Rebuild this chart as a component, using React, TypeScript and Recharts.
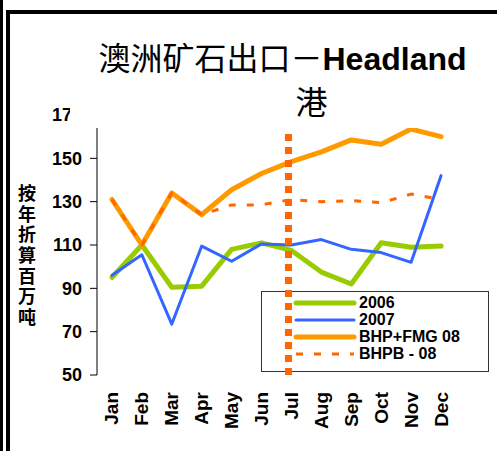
import React from 'react';
import { LineChart, Line, XAxis, YAxis, ReferenceLine } from 'recharts';

const months = ['Jan', 'Feb', 'Mar', 'Apr', 'May', 'Jun', 'Jul', 'Aug', 'Sep', 'Oct', 'Nov', 'Dec'];
const s2006 = [95, 110, 90.5, 91, 108, 111, 107.5, 97.5, 92, 111, 109, 109.5];
const s2007 = [96, 105.5, 73.5, 109.5, 102.5, 110.5, 110, 112.5, 108, 106.5, 102, 142];
const bhpFmg = [131, 110, 134, 124, 135.5, 143, 148.5, 153, 158.5, 156.5, 163.5, 160];
const bhpb = [131, 110, 134, 124, 128.5, 128.5, 131, 130, 130.5, 129.5, 133.5, 131];
const yTicks = [50, 70, 90, 110, 130, 150, 170];
const boundaryTicks = [0, 1, 2, 3, 4, 5, 6, 7, 8, 9, 10, 11, 12];
const markerPos = 6.4; // position of the vertical marker (Jul)

const data = months.map((m, i) => ({
  pos: i + 0.5,
  month: m,
  s2006: s2006[i],
  s2007: s2007[i],
  bhpFmg: bhpFmg[i],
  bhpb: bhpb[i],
}));
const labelTicks = months.map((_, i) => i + 0.5);

const FONT = '"Liberation Sans", Arial, sans-serif';
const CJK = '"Noto Sans CJK SC", sans-serif';

const series = [
  { key: 's2006', name: '2006', color: '#99CC00', width: 5, dash: undefined as string | undefined },
  { key: 's2007', name: '2007', color: '#3366FF', width: 3, dash: undefined as string | undefined },
  { key: 'bhpFmg', name: 'BHP+FMG 08', color: '#FF9900', width: 5, dash: undefined as string | undefined },
  { key: 'bhpb', name: 'BHPB - 08', color: '#FF6600', width: 3, dash: '7 11' },
];

const MonthTick = (props: any) => {
  const { x, y, payload } = props;
  const label = months[Math.floor(payload.value)];
  return (
    <text
      x={x}
      y={y}
      transform={`rotate(-90 ${x} ${y})`}
      textAnchor="end"
      dominantBaseline="central"
      fontSize={19}
      fontWeight="bold"
      fontFamily={FONT}
      fill="#000"
    >
      {label}
    </text>
  );
};

export default function App() {
  return (
    <div style={{ position: 'absolute', left: 0, top: 0, width: 497, height: 451, background: '#fff', overflow: 'hidden' }}>
      {/* outer frame */}
      <div style={{ position: 'absolute', left: 0, top: 0, width: 3, height: 451, background: '#000' }} />
      <div
        style={{
          position: 'absolute',
          left: 6,
          top: 10,
          width: 491,
          height: 441,
          borderLeft: '4px solid #000',
          borderTop: '4px solid #000',
          boxSizing: 'border-box',
        }}
      />
      {/* legend (under chart so the marker line passes over it) */}
      <div
        style={{
          position: 'absolute',
          left: 261,
          top: 291,
          width: 228,
          height: 81,
          border: '1px solid #333',
          boxSizing: 'border-box',
          fontFamily: FONT,
          fontWeight: 'bold',
          fontSize: 16,
          color: '#000',
          paddingTop: 3,
        }}
      >
        {series.map((s) => (
          <div key={s.key} style={{ height: 16.8, display: 'flex', alignItems: 'center' }}>
            <svg width={97} height={16} style={{ display: 'block' }}>
              <line
                x1={34}
                x2={92}
                y1={8}
                y2={8}
                stroke={s.color}
                strokeWidth={s.width}
                strokeDasharray={s.dash}
                strokeLinecap={s.dash ? 'butt' : 'round'}
              />
            </svg>
            <span style={{ lineHeight: '16px', whiteSpace: 'nowrap' }}>{s.name}</span>
          </div>
        ))}
      </div>
      <div style={{ position: 'absolute', left: 0, top: 0 }}>
        <LineChart width={497} height={451} data={data} margin={{ top: 115, right: 41, bottom: 16, left: 37 }}>
          <XAxis
            xAxisId="b"
            type="number"
            dataKey="pos"
            domain={[0, 12]}
            ticks={boundaryTicks}
            tick={false}
            tickSize={7}
            height={0}
            axisLine={{ stroke: '#000' }}
            tickLine={{ stroke: '#000' }}
            allowDecimals
          />
          <XAxis
            xAxisId="m"
            type="number"
            dataKey="pos"
            domain={[0, 12]}
            ticks={labelTicks}
            tick={<MonthTick />}
            tickLine={false}
            axisLine={false}
            tickSize={7}
            tickMargin={10}
            height={60}
            interval={0}
            allowDecimals
          />
          <YAxis
            type="number"
            domain={[50, 170]}
            ticks={yTicks}
            width={60}
            tickSize={7}
            tickMargin={8}
            interval={0}
            axisLine={{ stroke: '#000' }}
            tickLine={{ stroke: '#000' }}
            tick={{ fontSize: 18, fontWeight: 'bold', fontFamily: FONT, fill: '#000' }}
          />
          {series.map((s) => (
            <Line
              key={s.key}
              xAxisId="b"
              type="linear"
              dataKey={s.key}
              name={s.name}
              stroke={s.color}
              strokeWidth={s.width}
              strokeDasharray={s.dash}
              strokeLinejoin="round"
              strokeLinecap={s.dash ? 'butt' : 'round'}
              dot={false}
              activeDot={false}
              isAnimationActive={false}
            />
          ))}
          <ReferenceLine xAxisId="b" x={markerPos} stroke="#FF6600" strokeWidth={7} strokeDasharray="7 6" />
        </LineChart>
      </div>
      {/* title (white box hides the top of the axis) */}
      <div style={{ position: 'absolute', left: 70, top: 14, width: 427, height: 114, background: '#fff' }}>
        <div
          style={{
            position: 'absolute',
            left: 0,
            top: 26,
            width: 425,
            textAlign: 'center',
            fontSize: 32,
            lineHeight: '32px',
            whiteSpace: 'nowrap',
            color: '#000',
          }}
        >
          <span style={{ fontFamily: CJK }}>澳洲矿石出口－</span>
          <span style={{ fontFamily: FONT, fontWeight: 'bold' }}>Headland</span>
        </div>
        <div
          style={{
            position: 'absolute',
            left: 0,
            top: 70,
            width: 483,
            textAlign: 'center',
            fontSize: 32,
            lineHeight: '32px',
            fontFamily: CJK,
            color: '#000',
          }}
        >
          港
        </div>
      </div>
      {/* y-axis title */}
      <div
        style={{
          position: 'absolute',
          left: 16,
          top: 184,
          width: 21,
          writingMode: 'vertical-rl',
          fontFamily: CJK,
          fontWeight: 'bold',
          fontSize: 18,
          lineHeight: '21px',
          letterSpacing: '2.7px',
          color: '#000',
        }}
      >
        按年折算百万吨
      </div>
    </div>
  );
}
